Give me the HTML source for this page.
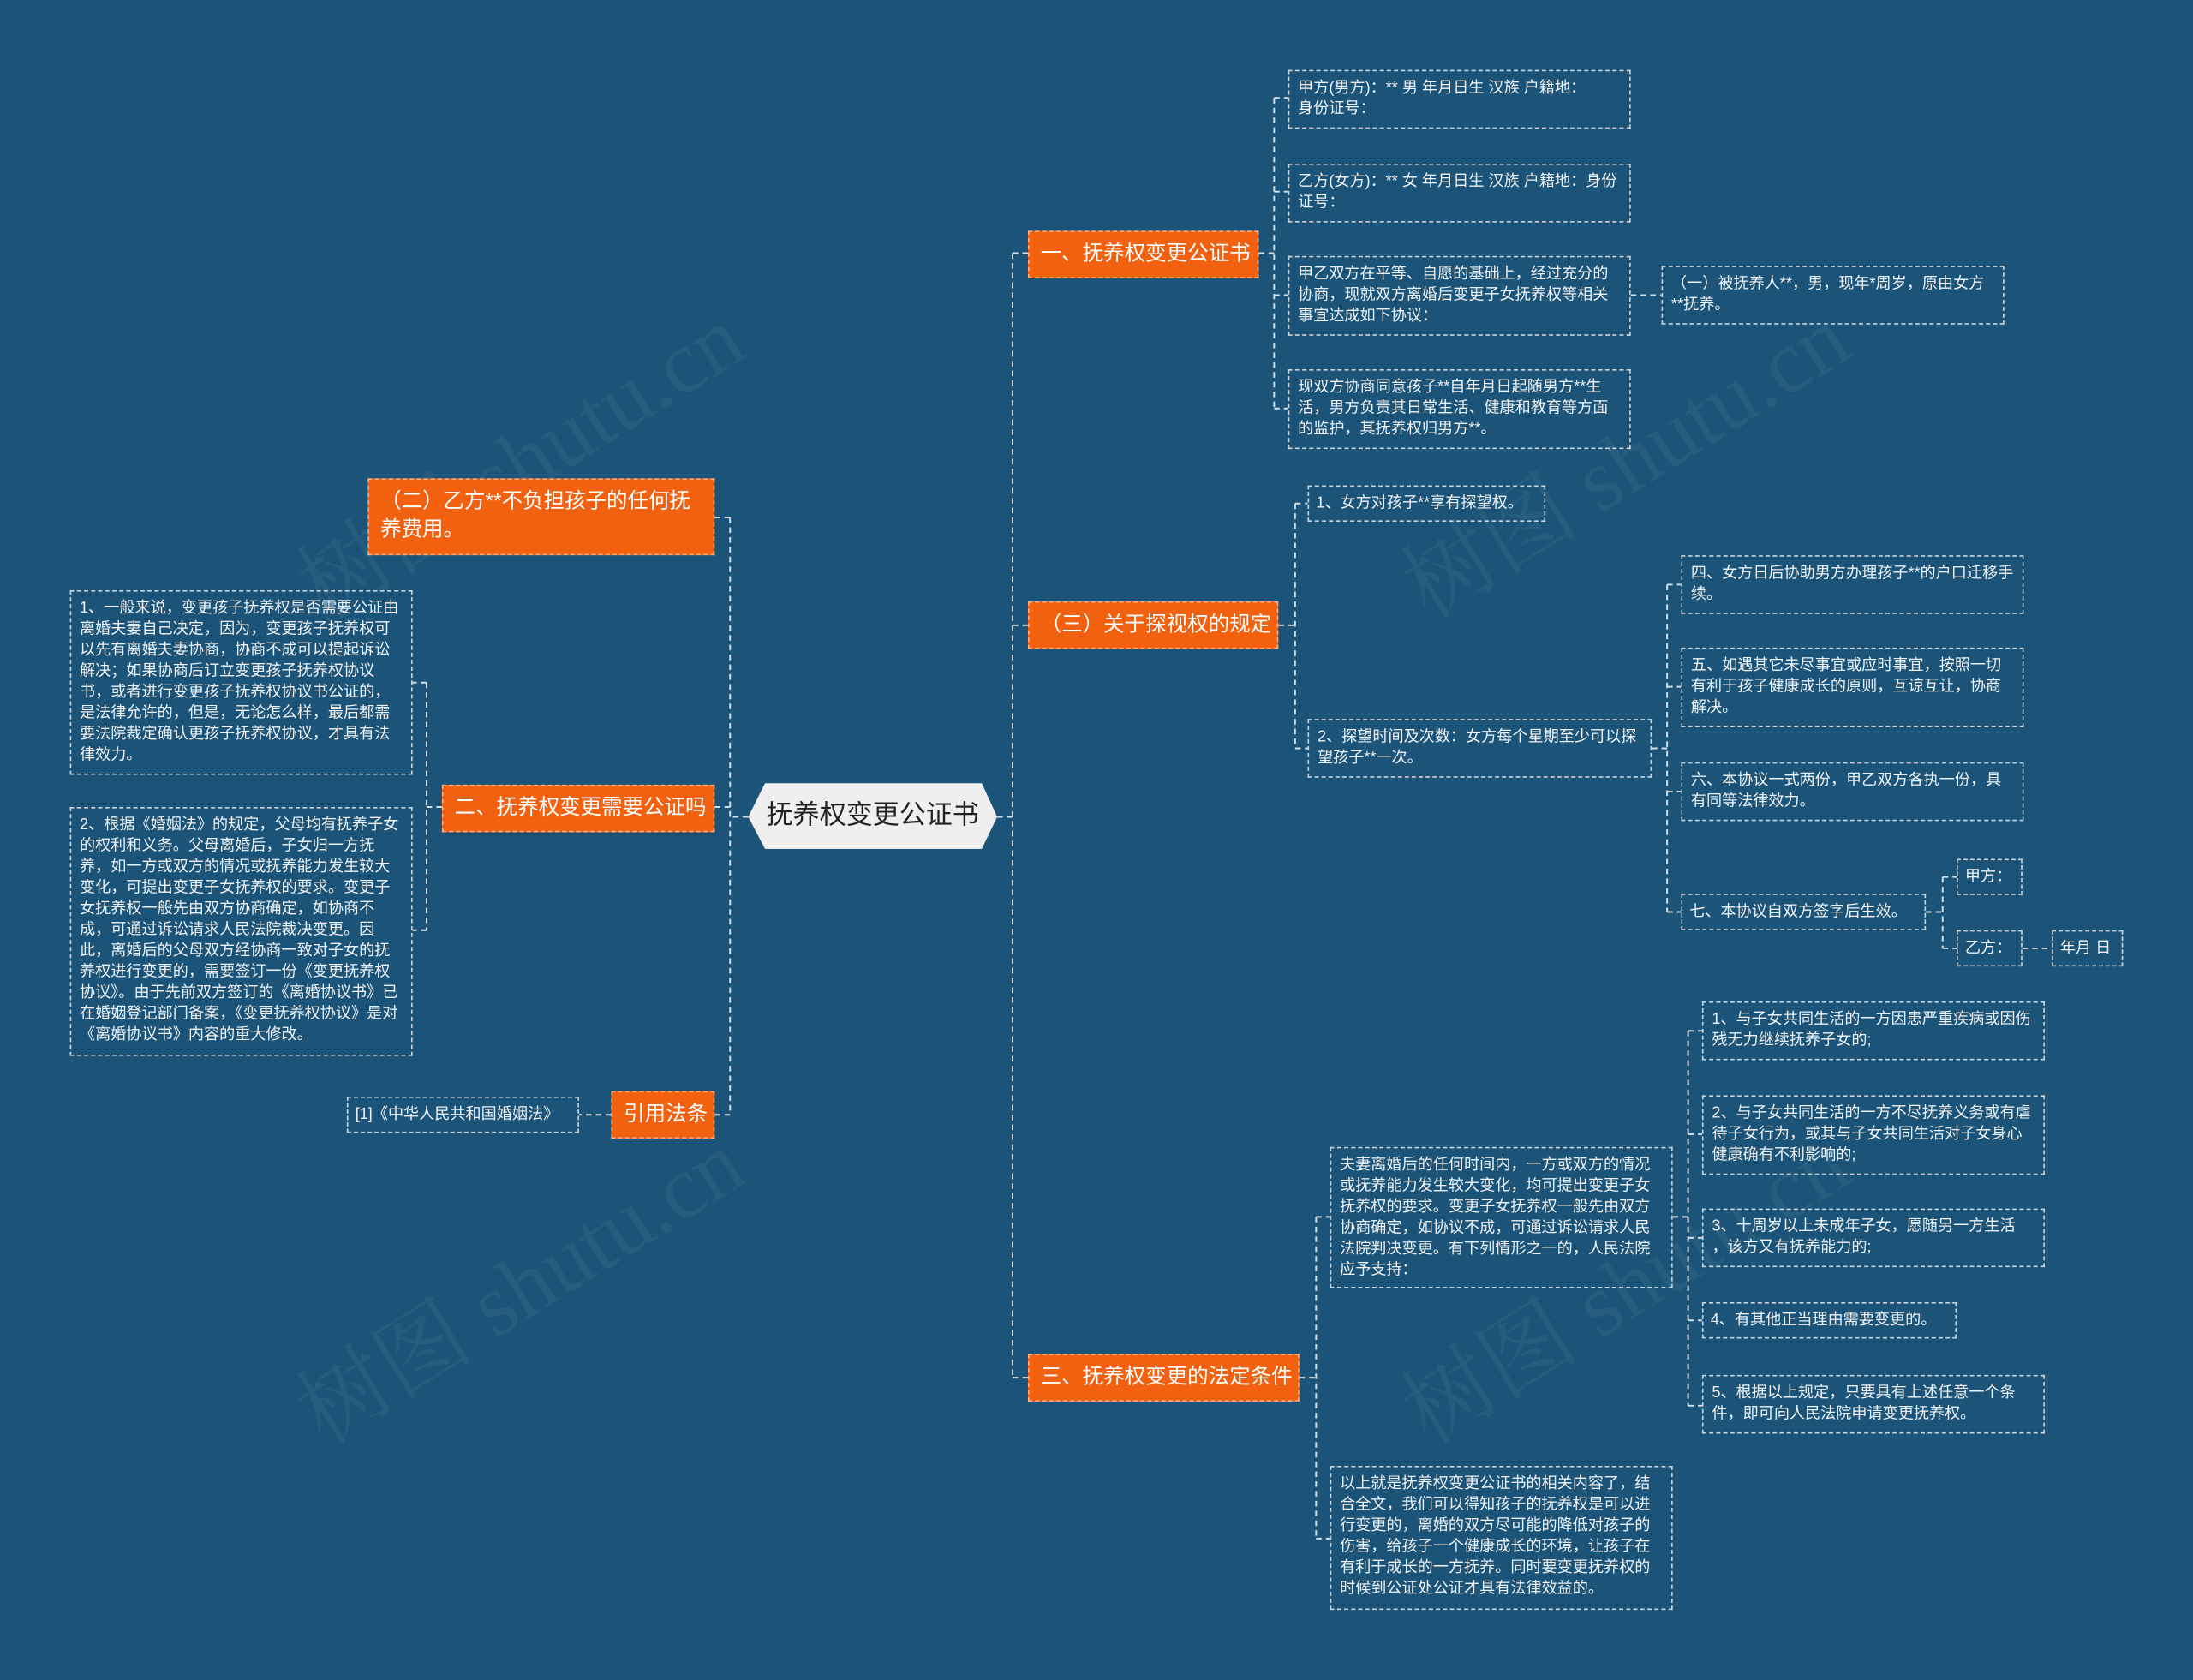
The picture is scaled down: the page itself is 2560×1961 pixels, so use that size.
<!DOCTYPE html>
<html><head><meta charset="utf-8">
<style>
html,body{margin:0;padding:0;width:2560px;height:1961px;overflow:hidden;background:#1b5478;}
#w{position:absolute;left:0;top:0;width:1568px;height:1201px;transform:scale(1.63265);transform-origin:0 0;font-family:"Liberation Sans","Noto Sans CJK SC",sans-serif;}
.b{position:absolute;box-sizing:border-box;border:1px dashed #c9d4dc;color:#eef2f5;font-size:11.1px;line-height:15px;padding:5px 6px;}
.n{white-space:nowrap;padding:5px 5px;}
.o{position:absolute;box-sizing:border-box;background:#f2610f;color:#fff;font-size:15px;line-height:20px;padding:6px 8px;border:1px dashed #f7b08a;white-space:nowrap;}
.wm{position:absolute;color:rgba(255,255,255,0.05);font-size:64px;transform:rotate(-32deg);white-space:nowrap;font-family:"Liberation Serif","Noto Serif CJK SC",serif;}
svg{position:absolute;left:0;top:0;}
</style></head><body><div id="w">
<div class="wm" style="left:190px;top:280px">树图 shutu.cn</div>
<div class="wm" style="left:190px;top:870px">树图 shutu.cn</div>
<div class="wm" style="left:980px;top:280px">树图 shutu.cn</div>
<div class="wm" style="left:980px;top:870px">树图 shutu.cn</div>
<svg width="1568" height="1201" fill="none" stroke="#d6dfe6" stroke-width="1.2" stroke-dasharray="4,3">
<path d="M713 584H724M724 181V985M724 181H735M724 447H735M724 985H735"/>
<path d="M535 584H522M522 370V797M522 370H511M522 577H511M522 797H511"/>
<path d="M900 181H911M911 70V292M911 70H921M911 137H921M911 211H921M911 292H921M1166 211H1188"/>
<path d="M914 447H926M926 360V535M926 360H935M926 535H935M1181 535H1192M1192 418V652M1192 418H1202M1192 491H1202M1192 566H1202M1192 652H1202M1377 652H1389M1389 627V678M1389 627H1399M1389 678H1399M1446 678H1467"/>
<path d="M929 985H941M941 870V1100M941 870H951M941 1100H951M1196 870H1207M1207 737V1005M1207 737H1217M1207 811H1217M1207 885H1217M1207 944H1217M1207 1005H1217"/>
<path d="M316 577H305M305 488V665M305 488H295M305 665H295M437 797H414"/>
</svg>
<svg width="1568" height="1201"><polygon points="547,560 702,560 713,584 702,607 547,607 535,584" fill="#efefef"/></svg>
<div style="position:absolute;left:535px;top:560px;width:178px;height:47px;line-height:47px;text-align:center;font-size:19px;color:#222">抚养权变更公证书</div>

<div class="o" style="left:735px;top:165px;width:165px;height:34px">一、抚养权变更公证书</div>
<div class="o" style="left:735px;top:430px;width:179px;height:34px">（三）关于探视权的规定</div>
<div class="o" style="left:735px;top:968px;width:194px;height:34px">三、抚养权变更的法定条件</div>
<div class="o" style="left:263px;top:342px;width:248px;height:55px;white-space:normal;line-height:20px">（二）乙方**不负担孩子的任何抚养费用。</div>
<div class="o" style="left:316px;top:561px;width:195px;height:34px">二、抚养权变更需要公证吗</div>
<div class="o" style="left:437px;top:780px;width:74px;height:34px">引用法条</div>

<div class="b" style="left:921px;top:50px;width:245px;height:42px">甲方(男方)：** 男 年月日生 汉族 户籍地：<br>身份证号：</div>
<div class="b" style="left:921px;top:117px;width:245px;height:42px">乙方(女方)：** 女 年月日生 汉族 户籍地：身份证号：</div>
<div class="b" style="left:921px;top:183px;width:245px;height:57px">甲乙双方在平等、自愿的基础上，经过充分的协商，现就双方离婚后变更子女抚养权等相关事宜达成如下协议：</div>
<div class="b" style="left:1188px;top:190px;width:245px;height:42px">（一）被抚养人**，男，现年*周岁，原由女方**抚养。</div>
<div class="b" style="left:921px;top:264px;width:245px;height:57px">现双方协商同意孩子**自年月日起随男方**生活，男方负责其日常生活、健康和教育等方面的监护，其抚养权归男方**。</div>

<div class="b n" style="left:935px;top:347px;width:170px;height:26px">1、女方对孩子**享有探望权。</div>
<div class="b" style="left:935px;top:514px;width:246px;height:42px">2、探望时间及次数：女方每个星期至少可以探望孩子**一次。</div>
<div class="b" style="left:1202px;top:397px;width:245px;height:42px">四、女方日后协助男方办理孩子**的户口迁移手续。</div>
<div class="b" style="left:1202px;top:463px;width:245px;height:57px">五、如遇其它未尽事宜或应时事宜，按照一切有利于孩子健康成长的原则，互谅互让，协商解决。</div>
<div class="b" style="left:1202px;top:545px;width:245px;height:42px">六、本协议一式两份，甲乙双方各执一份，具有同等法律效力。</div>
<div class="b n" style="left:1202px;top:639px;width:175px;height:26px">七、本协议自双方签字后生效。</div>
<div class="b n" style="left:1399px;top:614px;width:47px;height:26px">甲方：</div>
<div class="b n" style="left:1399px;top:665px;width:47px;height:26px">乙方：</div>
<div class="b n" style="left:1467px;top:665px;width:51px;height:26px">年月 日</div>

<div class="b" style="left:951px;top:820px;width:245px;height:101px">夫妻离婚后的任何时间内，一方或双方的情况或抚养能力发生较大变化，均可提出变更子女抚养权的要求。变更子女抚养权一般先由双方协商确定，如协议不成，可通过诉讼请求人民法院判决变更。有下列情形之一的，人民法院应予支持：</div>
<div class="b" style="left:951px;top:1048px;width:245px;height:103px">以上就是抚养权变更公证书的相关内容了，结合全文，我们可以得知孩子的抚养权是可以进行变更的，离婚的双方尽可能的降低对孩子的伤害，给孩子一个健康成长的环境，让孩子在有利于成长的一方抚养。同时要变更抚养权的时候到公证处公证才具有法律效益的。</div>
<div class="b" style="left:1217px;top:716px;width:245px;height:42px">1、与子女共同生活的一方因患严重疾病或因伤残无力继续抚养子女的;</div>
<div class="b" style="left:1217px;top:783px;width:245px;height:57px">2、与子女共同生活的一方不尽抚养义务或有虐待子女行为，或其与子女共同生活对子女身心健康确有不利影响的;</div>
<div class="b" style="left:1217px;top:864px;width:245px;height:42px">3、十周岁以上未成年子女，愿随另一方生活<br>，该方又有抚养能力的;</div>
<div class="b n" style="left:1217px;top:931px;width:182px;height:26px">4、有其他正当理由需要变更的。</div>
<div class="b" style="left:1217px;top:983px;width:245px;height:42px">5、根据以上规定，只要具有上述任意一个条件，即可向人民法院申请变更抚养权。</div>

<div class="b" style="left:50px;top:422px;width:245px;height:132px">1、一般来说，变更孩子抚养权是否需要公证由离婚夫妻自己决定，因为，变更孩子抚养权可以先有离婚夫妻协商，协商不成可以提起诉讼解决；如果协商后订立变更孩子抚养权协议书，或者进行变更孩子抚养权协议书公证的，是法律允许的，但是，无论怎么样，最后都需要法院裁定确认更孩子抚养权协议，才具有法律效力。</div>
<div class="b" style="left:50px;top:577px;width:245px;height:178px">2、根据《婚姻法》的规定，父母均有抚养子女的权利和义务。父母离婚后，子女归一方抚养，如一方或双方的情况或抚养能力发生较大变化，可提出变更子女抚养权的要求。变更子女抚养权一般先由双方协商确定，如协商不成，可通过诉讼请求人民法院裁决变更。因此，离婚后的父母双方经协商一致对子女的抚养权进行变更的，需要签订一份《变更抚养权协议》。由于先前双方签订的《离婚协议书》已在婚姻登记部门备案，《变更抚养权协议》是对《离婚协议书》内容的重大修改。</div>
<div class="b n" style="left:248px;top:784px;width:166px;height:26px">[1]《中华人民共和国婚姻法》</div>
</div></body></html>
